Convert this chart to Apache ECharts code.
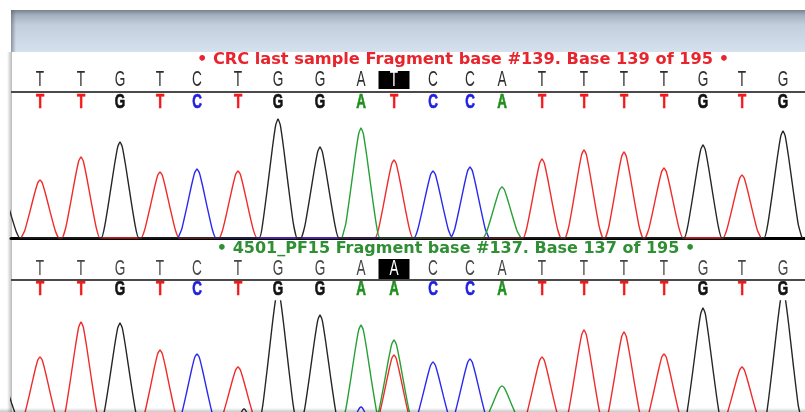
<!DOCTYPE html>
<html><head><meta charset="utf-8">
<script src="https://cdn.jsdelivr.net/npm/echarts@6/dist/echarts.min.js"></script>
<style>html,body{margin:0;padding:0;background:#fff}#c{width:805px;height:412px}</style>
</head><body><div id="c"></div>
<script>
// ---- data ----
const scanPos = [40, 81, 120, 160, 197, 238, 278, 320, 361, 394, 433, 470, 502, 542, 584, 624, 664, 703, 742, 783];
const topRef   = ['T','T','G','T','C','T','G','G','A','T','C','C','A','T','T','T','T','G','T','G'];
const topCalls = ['T','T','G','T','C','T','G','G','A','T','C','C','A','T','T','T','T','G','T','G'];
const botRef   = ['T','T','G','T','C','T','G','G','A','A','C','C','A','T','T','T','T','G','T','G'];
const botCalls = ['T','T','G','T','C','T','G','G','A','A','C','C','A','T','T','T','T','G','T','G'];
const topHeights = [58, 81, 96, 66, 69, 67, 119, 91, 110, 78, 67, 71, 51, 79, 88, 86, 70, 93, 63, 107];
const botHeights = [65, 100, 99, 72, 68, 55, 130, 107, 97, 82, 60, 63, 36, 65, 92, 90, 68, 114, 55, 130];
// extra (secondary / partial / noise) peaks: position, base, height, half width
const topExtraPos = [1];
const topExtraBase = ['G'];
const topExtraH = [50];
const topExtraW = [19];
const botExtraPos = [1, 394, 244, 361];
const botExtraBase = ['G', 'T', 'G', 'C'];
const botExtraH = [45, 67, 13, 15];
const botExtraW = [19, 18, 9, 10];
// normalised peak outline (offset / half width, height / peak height)
const profileX = [-1, -0.8, -0.55, -0.3, -0.12, 0, 0.12, 0.3, 0.55, 0.8, 1];
const profileY = [0, 0.13, 0.43, 0.75, 0.95, 1, 0.95, 0.75, 0.43, 0.13, 0];
const topHighlight = 9, botHighlight = 9;
const topTitle = '• CRC last sample Fragment base #139. Base 139 of 195 •';
const botTitle = '• 4501_PF15 Fragment base #137. Base 137 of 195 •';

// ---- styling ----
const traceColor = {A:'#27a035', C:'#2a2aee', G:'#262626', T:'#f02b2b'};
const callColor  = {A:'#1f8f1f', C:'#1f1fe0', G:'#111111', T:'#f01a1a'};
const HW = 19;

function peakPts(p){ return profileX.map((f,i)=>[p[0]+f*p[2], p[1]*profileY[i]]); }
function valAt(p,x){
  const pts=peakPts(p);
  if(x<=pts[0][0]||x>=pts[pts.length-1][0]) return 0;
  for(let i=1;i<pts.length;i++){
    if(x<=pts[i][0]){const a=pts[i-1],b=pts[i];return a[1]+(b[1]-a[1])*(x-a[0])/(b[0]-a[0]);}
  }
  return 0;
}
function traceData(peaks){
  peaks.sort((a,b)=>a[0]-b[0]);
  const out=[];
  let leftCut=-Infinity;
  for(let i=0;i<peaks.length;i++){
    const p=peaks[i], next=peaks[i+1];
    let rightCut=Infinity, mid=null;
    if(next && next[0]-next[2] < p[0]+p[2]){
      const m=(p[0]+next[0])/2;
      rightCut=m; mid=[m, Math.max(valAt(p,m),valAt(next,m))];
    }
    peakPts(p).forEach(q=>{ if(q[0]>leftCut && q[0]<rightCut) out.push(q); });
    if(mid){ out.push(mid); leftCut=mid[0]; } else leftCut=-Infinity;
  }
  return out;
}
function channelPeaks(calls, heights, ePos, eBase, eH, eW, base){
  const pk=[];
  calls.forEach((b,i)=>{ if(b===base) pk.push([scanPos[i],heights[i],HW]); });
  ePos.forEach((x,i)=>{ if(eBase[i]===base) pk.push([x,eH[i],eW[i]]); });
  return pk;
}

const grids=[], xAxes=[], yAxes=[], series=[];
function addGrid(top,height,ymin,ymax,axisLine){
  grids.push({left:11,right:0,top:top,height:height});
  const gi=grids.length-1;
  xAxes.push({type:'value',gridIndex:gi,min:11,max:805,
    axisLine:{show:!!axisLine,onZero:false,lineStyle:{color:'#000',width:3}},
    axisTick:{show:false},axisLabel:{show:false},splitLine:{show:false}});
  yAxes.push({type:'value',gridIndex:gi,min:ymin,max:ymax,show:false,splitLine:{show:false}});
  return gi;
}
function addTraces(gi, calls, heights, ePos, eBase, eH, eW){
  ['T','C','A','G'].forEach(b=>{
    series.push({type:'line',xAxisIndex:gi,yAxisIndex:gi,showSymbol:false,symbol:'none',
      smooth:0.15,clip:true,z:3,
      lineStyle:{color:traceColor[b],width:1.4},
      data:traceData(channelPeaks(calls,heights,ePos,eBase,eH,eW,b))});
  });
}
function addRow(centerY, letters, colorFn, font, hi, box){
  const gi=addGrid(centerY-10,20,-1,1,false);
  series.push({type:'custom',xAxisIndex:gi,yAxisIndex:gi,z:5,
    data:letters.map((l,i)=>[scanPos[i],0]),
    renderItem:(params,api)=>{
      const c=api.coord([api.value(0),api.value(1)]);
      const l=letters[params.dataIndex];
      const isHi=params.dataIndex===hi;
      const kids=[];
      if(isHi) kids.push({type:'rect',shape:{x:c[0]-box.w/2,y:c[1]-box.up,width:box.w,height:box.h},style:{fill:'#000'}});
      const col=isHi?'#fff':colorFn(l);
      kids.push({type:'text',x:c[0],y:c[1],scaleX:font.sx,
        style:{text:l,fill:col,stroke:font.stroke?col:null,lineWidth:font.stroke||0,
          font:font.weight+' '+font.size+"px 'Liberation Sans',Arial,sans-serif",
          align:'center',verticalAlign:'middle'}});
      return {type:'group',children:kids};
    }});
}

// top panel
const g0=addGrid(103,135,0,135,true);
addTraces(g0, topCalls, topHeights, topExtraPos, topExtraBase, topExtraH, topExtraW);
addRow(80, topRef, ()=>'#2e2e2e', {size:22,weight:'normal',sx:0.62}, topHighlight, {w:31,h:18,up:9});
addRow(102, topCalls, l=>callColor[l], {size:21,weight:'bold',sx:0.64,stroke:0.7}, -1);
// bottom panel (baseline lies just below the picture)
const g1=addGrid(301,111,10,121,false);
addTraces(g1, botCalls, botHeights, botExtraPos, botExtraBase, botExtraH, botExtraW);
addRow(269, botRef, ()=>'#464646', {size:22,weight:'normal',sx:0.62}, botHighlight, {w:31,h:20,up:10});
addRow(289, botCalls, l=>callColor[l], {size:21,weight:'bold',sx:0.64,stroke:0.7}, -1);

const chart=echarts.init(document.getElementById('c'),null,{renderer:'canvas'});
chart.setOption({
  animation:false,
  backgroundColor:'#fff',
  grid:grids, xAxis:xAxes, yAxis:yAxes, series:series,
  graphic:[
    {type:'rect',shape:{x:11,y:10,width:794,height:42},z:-10,
      style:{fill:new echarts.graphic.LinearGradient(0,0,0,1,[
        {offset:0,color:'#78828d'},{offset:0.12,color:'#a3b0be'},{offset:0.35,color:'#c2cedb'},{offset:1,color:'#d5e1ed'}])}},
    {type:'rect',shape:{x:11,y:10,width:5,height:42},z:-9,
      style:{fill:new echarts.graphic.LinearGradient(0,0,1,0,[
        {offset:0,color:'rgba(90,100,110,0.6)'},{offset:1,color:'rgba(90,100,110,0)'}])}},
    {type:'rect',shape:{x:7,y:52,width:5,height:360},z:-9,
      style:{fill:new echarts.graphic.LinearGradient(0,0,1,0,[
        {offset:0,color:'rgba(0,0,0,0)'},{offset:1,color:'rgba(0,0,0,0.28)'}])}},
    {type:'rect',shape:{x:0,y:408,width:805,height:4},z:20,
      style:{fill:new echarts.graphic.LinearGradient(0,0,0,1,[
        {offset:0,color:'rgba(0,0,0,0)'},{offset:1,color:'rgba(0,0,0,0.22)'}])}},
    {type:'line',shape:{x1:11,y1:92,x2:805,y2:92},z:10,style:{stroke:'#4a4a4a',lineWidth:2}},
    {type:'line',shape:{x1:11,y1:280,x2:805,y2:280},z:10,style:{stroke:'#4a4a4a',lineWidth:2}},
    {type:'text',x:463,y:60,z:10,style:{text:topTitle,align:'center',verticalAlign:'middle',
      fill:'#e8242c',font:"bold 16.2px 'DejaVu Sans',Verdana,sans-serif"}},
    {type:'text',x:456,y:249,z:10,style:{text:botTitle,align:'center',verticalAlign:'middle',
      fill:'#2f8f33',font:"bold 16px 'DejaVu Sans',Verdana,sans-serif"}}
  ]
});
</script></body></html>
